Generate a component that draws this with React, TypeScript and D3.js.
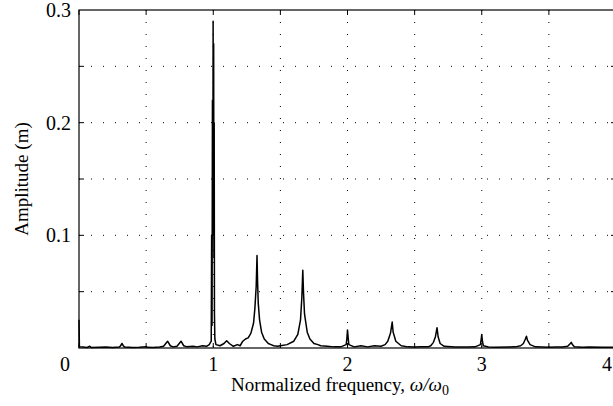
import React from "react";
import * as d3 from "d3";

const W = 613;
const H = 406;
const margin = { left: 79, top: 10, right: 616, bottom: 348 };

const xDomain = [0, 4];
const yDomain = [0, 0.3];
const xGrid = [0.5, 1, 1.5, 2, 2.5, 3, 3.5];
const yGrid = [0.05, 0.1, 0.15, 0.2, 0.25];
const xTicks = [0, 0.5, 1, 1.5, 2, 2.5, 3, 3.5, 4];
const yTicks = [0.05, 0.1, 0.15, 0.2, 0.25];
const xTickLabels = [
  { v: 0, t: "0" },
  { v: 1, t: "1" },
  { v: 2, t: "2" },
  { v: 3, t: "3" },
  { v: 4, t: "4" },
];
const yTickLabels = [
  { v: 0.1, t: "0.1" },
  { v: 0.2, t: "0.2" },
  { v: 0.3, t: "0.3" },
];

// frequency (normalized) values
const freq = [
  0, 0.003, 0.03, 0.06, 0.08, 0.09, 0.15, 0.2, 0.25, 0.3,
  0.31, 0.32, 0.33, 0.34, 0.4, 0.45, 0.5, 0.51, 0.55, 0.6,
  0.63, 0.66, 0.68, 0.7, 0.73, 0.76, 0.78, 0.8, 0.85, 0.88,
  0.92, 0.95, 0.97, 0.985, 0.988, 0.991, 0.994, 0.997, 0.999, 1.001,
  1.003, 1.005, 1.007, 1.009, 1.012, 1.02, 1.05, 1.08, 1.1, 1.12,
  1.15, 1.18, 1.2, 1.22, 1.24, 1.26, 1.28, 1.3, 1.31, 1.32,
  1.326, 1.33, 1.335, 1.345, 1.36, 1.38, 1.41, 1.43, 1.45, 1.48,
  1.5, 1.55, 1.6, 1.63, 1.65, 1.66, 1.667, 1.672, 1.68, 1.7,
  1.72, 1.75, 1.78, 1.8, 1.85, 1.9, 1.95, 1.99, 1.995, 2.0,
  2.005, 2.01, 2.05, 2.1, 2.15, 2.2, 2.25, 2.28, 2.3, 2.32,
  2.333, 2.34, 2.36, 2.4, 2.45, 2.5, 2.55, 2.6, 2.62, 2.64,
  2.655, 2.667, 2.675, 2.69, 2.72, 2.8, 2.9, 2.95, 2.99, 2.995,
  3.0, 3.005, 3.012, 3.05, 3.1, 3.2, 3.25, 3.29, 3.31, 3.325,
  3.333, 3.34, 3.36, 3.4, 3.5, 3.55, 3.6, 3.64, 3.66, 3.667,
  3.675, 3.69, 3.75, 3.8, 3.9, 4.0,
];

// amplitude (m) values
const amp = [
  0.025, 0.001, 0.0008, 0.0005, 0.0015, 0.0005, 0.0006, 0.0008, 0.0005, 0.0008,
  0.002, 0.004, 0.002, 0.0008, 0.0005, 0.0007, 0.0012, 0.0006, 0.0005, 0.0008,
  0.0015, 0.006, 0.002, 0.001, 0.0015, 0.006, 0.002, 0.0012, 0.0015, 0.001,
  0.002, 0.0015, 0.003, 0.006, 0.1, 0.02, 0.22, 0.1, 0.29, 0.15,
  0.27, 0.08, 0.2, 0.03, 0.008, 0.003, 0.002, 0.004, 0.0065, 0.004,
  0.0015, 0.003, 0.002, 0.006, 0.008, 0.009, 0.013, 0.022, 0.035, 0.055,
  0.082, 0.06, 0.04, 0.025, 0.014, 0.008, 0.004, 0.003, 0.002, 0.0015,
  0.002, 0.003, 0.006, 0.012, 0.025, 0.045, 0.069, 0.05, 0.03, 0.014,
  0.008, 0.004, 0.003, 0.002, 0.0015, 0.001, 0.001, 0.003, 0.008, 0.016,
  0.009, 0.003, 0.001, 0.002, 0.001, 0.002, 0.0015, 0.003, 0.006, 0.013,
  0.023, 0.014, 0.006, 0.002, 0.001, 0.0008, 0.001, 0.001, 0.002, 0.005,
  0.01, 0.018, 0.01, 0.004, 0.0015, 0.0008, 0.0008, 0.001, 0.003, 0.007,
  0.012, 0.006, 0.002, 0.0008, 0.0006, 0.0008, 0.001, 0.002, 0.004, 0.008,
  0.0105, 0.007, 0.003, 0.001, 0.0006, 0.0008, 0.0008, 0.0015, 0.004, 0.005,
  0.003, 0.001, 0.0006, 0.0008, 0.0006, 0.0008,
];

const FONT = "Times New Roman";

export default function App() {
  const x = d3.scaleLinear().domain(xDomain).range([margin.left, margin.right]);
  const y = d3.scaleLinear().domain(yDomain).range([margin.bottom, margin.top]);
  const n = Math.min(freq.length, amp.length);
  const pts: [number, number][] = freq.slice(0, n).map((f, i) => [f, amp[i]]);
  const line = d3
    .line<[number, number]>()
    .x((d) => x(d[0]))
    .y((d) => y(d[1]));
  const tickLen = 5;
  return (
    <svg
      width={W}
      height={H}
      fontFamily={FONT}
      style={{ position: "absolute", left: 0, top: 0, background: "#fff" }}
    >
      <rect x={0} y={0} width={W} height={H} fill="#fff" />
      {xGrid.map((v) => (
        <line
          key={"gx" + v}
          x1={x(v)}
          x2={x(v)}
          y1={margin.top}
          y2={margin.bottom}
          stroke="#000"
          strokeWidth={1}
          strokeDasharray="1,11"
        />
      ))}
      {yGrid.map((v) => (
        <line
          key={"gy" + v}
          x1={margin.left}
          x2={margin.right}
          y1={y(v)}
          y2={y(v)}
          stroke="#000"
          strokeWidth={1}
          strokeDasharray="1,11"
        />
      ))}
      {xTicks.map((v) => (
        <g key={"tx" + v}>
          <line x1={x(v)} x2={x(v)} y1={margin.bottom} y2={margin.bottom - tickLen} stroke="#000" />
          <line x1={x(v)} x2={x(v)} y1={margin.top} y2={margin.top + tickLen} stroke="#000" />
        </g>
      ))}
      {yTicks.map((v) => (
        <g key={"ty" + v}>
          <line x1={margin.left} x2={margin.left + tickLen} y1={y(v)} y2={y(v)} stroke="#000" />
          <line x1={margin.right} x2={margin.right - tickLen} y1={y(v)} y2={y(v)} stroke="#000" />
        </g>
      ))}
      <path d={line(pts) || ""} fill="none" stroke="#000" strokeWidth={1.5} strokeLinejoin="round" />
      <rect
        x={margin.left}
        y={margin.top}
        width={margin.right - margin.left}
        height={margin.bottom - margin.top}
        fill="none"
        stroke="#000"
        strokeWidth={1.2}
      />
      {xTickLabels.map((d) => (
        <text
          key={"lx" + d.v}
          x={d.v === 0 ? x(d.v) - 14 : Math.min(x(d.v), 607)}
          y={371}
          textAnchor="middle"
          fontSize={20}
          fill="#000"
          fontFamily={FONT}
        >
          <tspan fontFamily={FONT}>{d.t}</tspan>
        </text>
      ))}
      {yTickLabels.map((d) => (
        <text
          key={"ly" + d.v}
          x={71}
          y={y(d.v) + 7}
          textAnchor="end"
          fontSize={20}
          fill="#000"
          fontFamily={FONT}
        >
          <tspan fontFamily={FONT}>{d.t}</tspan>
        </text>
      ))}
      <text x={340} y={391} textAnchor="middle" fontSize={19} fill="#000" fontFamily={FONT}>
        <tspan fontFamily={FONT}>Normalized frequency, </tspan>
        <tspan fontFamily={FONT} fontStyle="italic">ω/ω</tspan>
        <tspan fontFamily={FONT} fontSize={14} dy={4}>0</tspan>
      </text>
      <text
        transform={`translate(28, ${(margin.top + margin.bottom) / 2}) rotate(-90)`}
        textAnchor="middle"
        fontSize={19}
        fill="#000"
        fontFamily={FONT}
      >
        <tspan fontFamily={FONT}>Amplitude (m)</tspan>
      </text>
    </svg>
  );
}
